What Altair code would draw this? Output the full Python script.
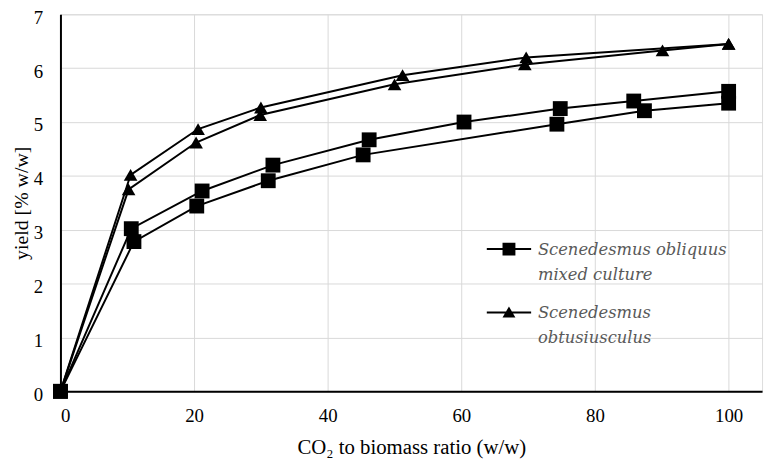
import altair as alt
import pandas as pd

series_names = ["Scenedesmus obliquus mixed culture", "Scenedesmus obtusiusculus"]

# Scenedesmus obliquus mixed culture (squares) - two branches
sq_upper_x = [0, 10.6, 21.2, 31.8, 46.2, 60.4, 74.8, 85.8, 100]
sq_upper_y = [0, 3.02, 3.72, 4.20, 4.67, 5.00, 5.25, 5.39, 5.57]
sq_lower_x = [0, 11.0, 20.4, 31.1, 45.3, 74.3, 87.4, 100]
sq_lower_y = [0, 2.78, 3.44, 3.91, 4.39, 4.96, 5.21, 5.35]

# Scenedesmus obtusiusculus (triangles) - two branches
tr_upper_x = [0, 10.5, 20.6, 30.0, 51.2, 69.7, 100]
tr_upper_y = [0, 4.02, 4.87, 5.27, 5.87, 6.20, 6.45]
tr_lower_x = [0, 10.2, 20.3, 29.9, 50.0, 69.5, 90.1, 100]
tr_lower_y = [0, 3.75, 4.62, 5.13, 5.70, 6.07, 6.33, 6.45]

x_ticks = [0, 20, 40, 60, 80, 100]
y_ticks = [0, 1, 2, 3, 4, 5, 6, 7]

rows = []
def add(series, branch, xs, ys):
    for i, (xv, yv) in enumerate(zip(xs, ys)):
        rows.append({"series": series, "branch": branch, "idx": i, "x": xv, "y": yv})

add(series_names[1], "tr_up", tr_upper_x, tr_upper_y)
add(series_names[1], "tr_lo", tr_lower_x, tr_lower_y)
add(series_names[0], "sq_up", sq_upper_x, sq_upper_y)
add(series_names[0], "sq_lo", sq_lower_x, sq_lower_y)
df = pd.DataFrame(rows)

serif = "Liberation Serif"

x_enc = alt.X("x:Q", scale=alt.Scale(domain=[0, 105], nice=False, zero=False),
              axis=alt.Axis(values=x_ticks, format="d", title="CO₂ to biomass ratio (w/w)", grid=True,
                            ticks=False, domain=True, domainColor="black", domainWidth=2,
                            gridColor="#d9d9d9", gridWidth=1,
                            labelFont=serif, labelFontSize=19, labelColor="black",
                            labelPadding=15, titleFont=serif, titleFontSize=21,
                            titleFontWeight="normal", titleColor="black", titlePadding=12))
y_enc = alt.Y("y:Q", scale=alt.Scale(domain=[0, 7], nice=False),
              axis=alt.Axis(values=y_ticks, format="d", title="yield [% w/w]", grid=True,
                            ticks=False, domain=True, domainColor="black", domainWidth=2,
                            gridColor="#d9d9d9", gridWidth=1,
                            labelFont=serif, labelFontSize=19, labelColor="black",
                            labelPadding=18, labelOffset=3,
                            titleFont=serif, titleFontSize=20,
                            titleFontWeight="normal", titleColor="black", titlePadding=2))

base = alt.Chart(df)

lines = base.mark_line(color="black", strokeWidth=2).encode(
    x=x_enc, y=y_enc, detail="branch:N", order="idx:Q")

tri_pts = base.transform_filter(alt.datum.series == series_names[1]).mark_point(
    shape="triangle-up", filled=True, color="black", opacity=1, size=190).encode(x="x:Q", y="y:Q")
sq_pts = base.transform_filter(alt.datum.series == series_names[0]).mark_point(
    shape="square", filled=True, color="black", opacity=1, size=225).encode(x="x:Q", y="y:Q")

sq_path = ("M-3.2,0.86L3.2,0.86L3.2,1.14L-3.2,1.14Z "
           "M-0.93,0.07L0.93,0.07L0.93,1.93L-0.93,1.93Z")
tri_path = ("M-3.2,0.86L3.2,0.86L3.2,1.14L-3.2,1.14Z "
            "M-0.93,1.75L0,0.15L0.93,1.75Z")

legend_layer = base.transform_filter("false").mark_point(filled=True, color="black", opacity=1).encode(
    x="x:Q", y="y:Q",
    shape=alt.Shape("series:N",
                    scale=alt.Scale(domain=series_names, range=[sq_path, tri_path]),
                    legend=alt.Legend(
                        title=None, orient="none", legendX=445, legendY=222,
                        symbolSize=196, symbolFillColor="black", symbolStrokeWidth=0,
                        labelFont="DejaVu Serif", labelFontStyle="italic", labelFontSize=16.5,
                        labelColor="#595959", labelBaseline="top", labelOffset=21,
                        labelLimit=0, rowPadding=14, padding=0,
                        labelExpr="datum.label == 'Scenedesmus obliquus mixed culture' ? "
                                  "['Scenedesmus obliquus', 'mixed culture'] : ['Scenedesmus', 'obtusiusculus']")))

chart = alt.layer(lines, tri_pts, sq_pts, legend_layer).properties(
    width=709, height=381,
    autosize=alt.AutoSizeParams(type="none"),
    padding={"left": 53, "top": 4, "right": 4, "bottom": 66},
).configure_view(strokeWidth=0).configure(
    style={"guide-label": {"lineHeight": 25, "font": serif},
           "guide-title": {"font": serif}}
)

chart.save("out.html", embed_options={"renderer": "svg", "actions": False})
